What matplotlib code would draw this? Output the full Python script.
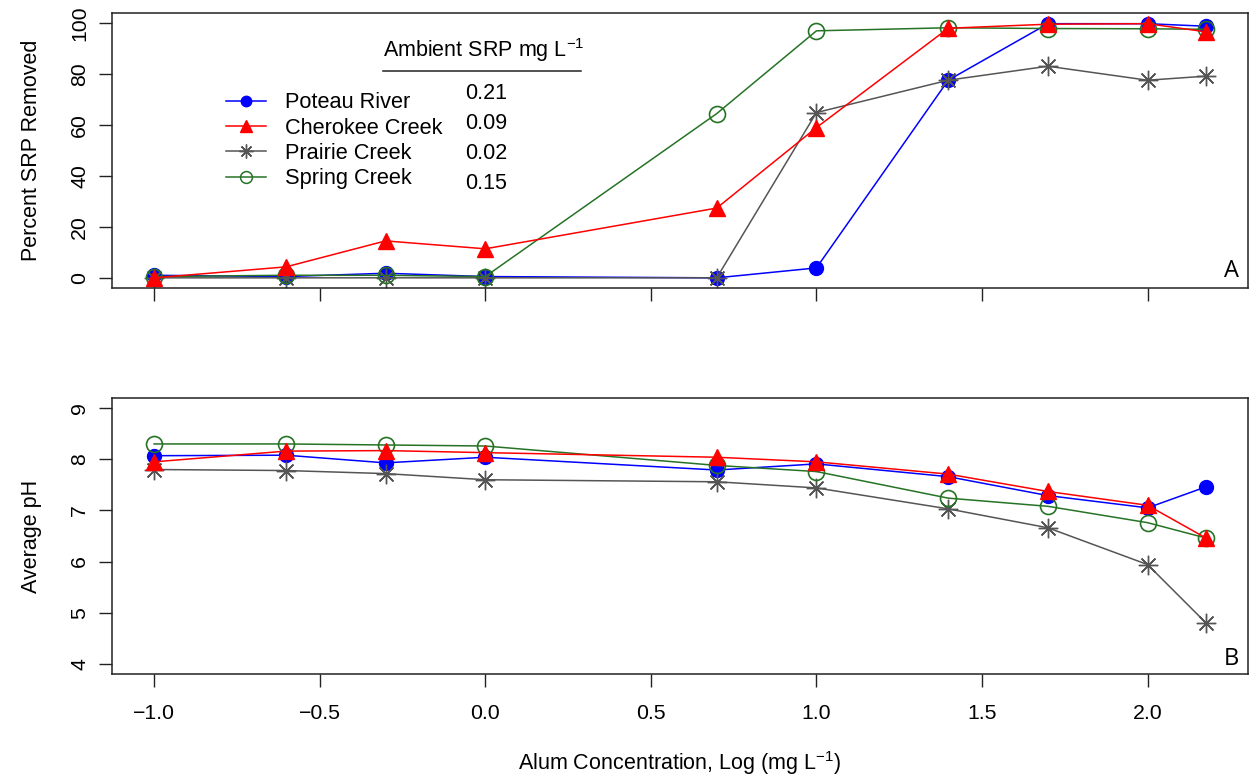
import numpy as np
import matplotlib
matplotlib.use("Agg")
import matplotlib.pyplot as plt
from matplotlib.lines import Line2D

plt.rcParams['font.family'] = ['Liberation Sans', 'DejaVu Sans']
plt.rcParams['mathtext.fontset'] = 'custom'
plt.rcParams['mathtext.rm'] = 'Liberation Sans'
plt.rcParams['mathtext.default'] = 'regular'

# alum doses (mg/L), plotted on log scale
alum = [0.1, 0.25, 0.5, 1, 5, 10, 25, 50, 100, 150]

sites = ['Poteau River', 'Cherokee Creek', 'Prairie Creek', 'Spring Creek']
ambient_srp = ['0.21', '0.09', '0.02', '0.15']

# percent SRP removed
srp_poteau   = [1.0, 0.5, 1.8, 0.5, 0.0, 3.9, 77.6, 99.8, 99.8, 98.8]
srp_cherokee = [0.0, 4.3, 14.5, 11.4, 27.4, 59.0, 98.0, 99.6, 99.8, 96.6]
srp_prairie  = [0.0, 0.0, 0.0, 0.0, 0.0, 64.9, 77.6, 83.1, 77.6, 79.2]
srp_spring   = [0.5, 1.0, 1.0, 0.5, 64.5, 97.0, 98.2, 97.9, 97.8, 97.6]

# average pH
ph_poteau   = [8.07, 8.08, 7.93, 8.04, 7.79, 7.91, 7.66, 7.29, 7.05, 7.46]
ph_cherokee = [7.95, 8.16, 8.17, 8.13, 8.04, 7.95, 7.71, 7.37, 7.10, 6.46]
ph_prairie  = [7.80, 7.78, 7.72, 7.60, 7.56, 7.44, 7.03, 6.66, 5.94, 4.80]
ph_spring   = [8.30, 8.30, 8.28, 8.26, 7.88, 7.76, 7.24, 7.08, 6.76, 6.46]

x = np.log10(alum)

colors = ['#0000ff', '#ff0000', '#555555', '#267326']
asterisk = (8, 2, 0)
mk = [dict(marker='o', ms=10, mfc=colors[0], mec=colors[0]),
      dict(marker='^', ms=11.5, mfc=colors[1], mec=colors[1]),
      dict(marker=asterisk, ms=14, mfc='none', mec=colors[2], mew=1.0),
      dict(marker='o', ms=11.5, mfc='none', mec=colors[3], mew=1.2)]
mk_leg = [dict(marker='o', ms=7.5, mfc=colors[0], mec=colors[0]),
          dict(marker='^', ms=9, mfc=colors[1], mec=colors[1]),
          dict(marker=asterisk, ms=10, mfc='none', mec=colors[2], mew=1.0),
          dict(marker='o', ms=8.5, mfc='none', mec=colors[3], mew=1.1)]
draw_order = [0, 2, 3, 1]

fig = plt.figure(figsize=(12.49, 7.78), dpi=100)
ax1 = fig.add_axes([0.0897, 0.6298, 0.9095, 0.3535])
ax2 = fig.add_axes([0.0897, 0.1337, 0.9095, 0.3548])

span = x.max() - x.min()
xlim = (x.min() - 0.04 * span, x.max() + 0.04 * span)

srp = [srp_poteau, srp_cherokee, srp_prairie, srp_spring]
ph = [ph_poteau, ph_cherokee, ph_prairie, ph_spring]

for i in draw_order:
    ax1.plot(x, srp[i], color=colors[i], lw=1.1, **mk[i])
    ax2.plot(x, ph[i], color=colors[i], lw=1.1, **mk[i])

for ax in (ax1, ax2):
    ax.set_xlim(xlim)
    ax.set_xticks([-1.0, -0.5, 0.0, 0.5, 1.0, 1.5, 2.0])
    ax.tick_params(length=9.5, width=1, color='#222222', labelsize=15.3)
    ax.tick_params(axis='y', labelrotation=90, pad=7)
    ax.tick_params(axis='x', pad=12)
    for s in ax.spines.values():
        s.set_linewidth(1.1)
        s.set_color('#222222')

ax1.set_ylim(-4, 104)
ax1.set_yticks([0, 20, 40, 60, 80, 100])
ax1.tick_params(axis='x', labelbottom=False)
ax2.set_ylim(3.8, 9.2)
ax2.set_yticks([4, 5, 6, 7, 8, 9])
ax2.set_xticklabels(['\u22121.0', '\u22120.5', '0.0', '0.5', '1.0', '1.5', '2.0'])
for ax in (ax1, ax2):
    for lab in ax.get_yticklabels():
        lab.set_va('center')

ax1.set_ylabel('Percent SRP Removed', fontsize=15.5)
ax2.set_ylabel('Average pH', fontsize=15.5)
ax1.yaxis.set_label_coords(-0.0616, 0.5)
ax2.yaxis.set_label_coords(-0.0616, 0.5)

fig.text(0.5445, 1 - 770 / 778, 'Alum Concentration, Log (mg L$^{-1}$)',
         ha='center', va='baseline', fontsize=15.5)

ax1.text(0.992, 0.04, 'A', transform=ax1.transAxes, ha='right',
         va='baseline', fontsize=17, family=['Open Sans', 'DejaVu Sans'])
ax2.text(0.992, 0.033, 'B', transform=ax2.transAxes, ha='right',
         va='baseline', fontsize=17, family=['Open Sans', 'DejaVu Sans'])

# legend with ambient SRP column
handles = [Line2D([], [], color=colors[i], lw=1.1, **mk_leg[i]) for i in range(4)]
ax1.legend(handles, sites, loc='upper left', bbox_to_anchor=(0.1004, 0.712),
           frameon=False, fontsize=15.7, borderpad=0, borderaxespad=0,
           handlelength=1.85, handletextpad=0.85, labelspacing=0.2)

ax1.text(0.2386, 0.84, 'Ambient SRP mg L$^{-1}$', transform=ax1.transAxes,
         ha='left', va='baseline', fontsize=15.5)
ax1.plot([0.2386, 0.4129], [0.789, 0.789], transform=ax1.transAxes,
         color='#222222', lw=1.1, clip_on=False)
for k, val in enumerate(ambient_srp):
    ax1.text(0.3107, 0.709 - 0.11 * k, val, transform=ax1.transAxes,
             ha='left', va='center', fontsize=15.5)

fig.savefig('out.png', dpi=100)
